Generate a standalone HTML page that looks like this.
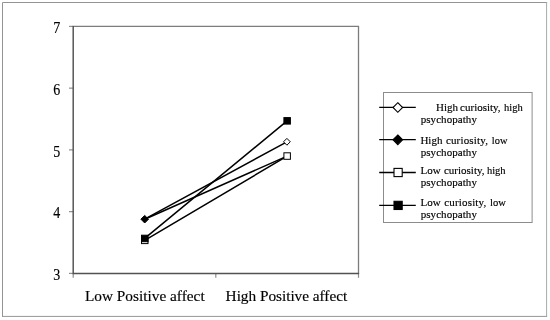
<!DOCTYPE html>
<html><head><meta charset="utf-8"><title>Chart</title>
<style>
html,body{margin:0;padding:0;background:#fff;}
svg{display:block;}
text{font-family:"Liberation Serif","Times New Roman",serif;fill:#000;stroke:#000;stroke-width:0.15px;}
</style></head><body>
<svg width="550" height="320" viewBox="0 0 550 320">
<rect x="0" y="0" width="550" height="320" fill="#fff"/>
<!-- outer frame -->
<g stroke-width="1" fill="none">
<path d="M2.5 316.9 V2.5 H547.1" stroke="#949494"/>
<path d="M546.6 2 V316.4" stroke="#a8a8a8"/>
<path d="M547.1 316.4 H2" stroke="#969696"/>
</g>
<!-- plot area -->
<path d="M72.5 26.3 H359.1 M358.5 26.3 V273.4" fill="none" stroke="#7c7c7c" stroke-width="1.3"/>
<g stroke="#8e8e8e" stroke-width="1.2">
<line x1="69" y1="26.4" x2="73.2" y2="26.4"/>
<line x1="69" y1="88.15" x2="73.2" y2="88.15"/>
<line x1="69" y1="149.9" x2="73.2" y2="149.9"/>
<line x1="69" y1="211.65" x2="73.2" y2="211.65"/>
<line x1="69" y1="273.4" x2="73.2" y2="273.4"/>
<line x1="73.2" y1="273.4" x2="73.2" y2="277.8"/>
<line x1="215.8" y1="273.4" x2="215.8" y2="277.8"/>
<line x1="358.5" y1="273.4" x2="358.5" y2="277.8"/>
</g>
<path d="M73.2 26 V274.1 M72.5 273.4 H359.1" fill="none" stroke="#525252" stroke-width="1.45"/>
<g font-size="16" text-anchor="end">
<text x="60.2" y="32.9" textLength="7" lengthAdjust="spacingAndGlyphs">7</text>
<text x="60.2" y="94.7" textLength="7" lengthAdjust="spacingAndGlyphs">6</text>
<text x="60.2" y="156.5" textLength="7" lengthAdjust="spacingAndGlyphs">5</text>
<text x="60.2" y="218.3" textLength="7" lengthAdjust="spacingAndGlyphs">4</text>
<text x="60.2" y="280.2" textLength="7" lengthAdjust="spacingAndGlyphs">3</text>
</g>
<g font-size="15.33">
<text x="84.9" y="300.5">Low Positive affect</text>
<text x="225.6" y="300.5" textLength="121.6" lengthAdjust="spacing">High Positive affect</text>
</g>
<!-- data lines -->
<g stroke="#000" stroke-width="1.5" fill="none" stroke-linecap="round">
<line x1="144.7" y1="219.2" x2="286.9" y2="141.8"/>
<line x1="144.7" y1="219.2" x2="287.1" y2="156.1"/>
<line x1="144.7" y1="240.4" x2="287.1" y2="156.1"/>
<line x1="144.7" y1="238.4" x2="287.1" y2="120.9"/>
</g>
<!-- markers -->
<g stroke="#000" stroke-width="1">
<path d="M144.7 215.4 L148.5 219.2 L144.7 223 L140.9 219.2 Z" fill="#000"/>
<path d="M286.9 138.4 L290.3 141.8 L286.9 145.2 L283.5 141.8 Z" fill="#fff"/>
<rect x="141.5" y="237.1" width="6.5" height="6.5" fill="#fff"/>
<rect x="141.5" y="235.2" width="6.5" height="6.5" fill="#000"/>
<rect x="283.9" y="152.8" width="6.5" height="6.5" fill="#fff"/>
<rect x="283.9" y="117.6" width="6.5" height="6.5" fill="#000"/>
</g>
<!-- legend -->
<rect x="383.5" y="92.5" width="148.6" height="130" fill="#fff" stroke="#8c8c8c" stroke-width="1"/>
<g stroke="#000" stroke-width="1.3">
<line x1="379.2" y1="107.3" x2="415.8" y2="107.3"/>
<line x1="379.2" y1="139.7" x2="415.8" y2="139.7"/>
<line x1="379.2" y1="172.5" x2="415.8" y2="172.5"/>
<line x1="379.2" y1="205.4" x2="415.8" y2="205.4"/>
</g>
<g stroke="#000" stroke-width="1.1">
<path d="M397.8 102.7 L402.6 107.5 L397.8 112.3 L393 107.5 Z" fill="#fff"/>
<path d="M397.8 135 L402.6 139.8 L397.8 144.6 L393 139.8 Z" fill="#000"/>
<rect x="394" y="168.4" width="8.2" height="8.2" fill="#fff"/>
<rect x="394" y="201.3" width="8.2" height="8.2" fill="#000"/>
</g>
<g font-size="11" xml:space="preserve">
<text y="110.7"><tspan x="436.1">High </tspan><tspan x="460.1">curiosity,</tspan><tspan> </tspan><tspan x="504.1" textLength="18.7" lengthAdjust="spacingAndGlyphs">high</tspan></text>
<text x="420.7" y="122.9" textLength="56.2" lengthAdjust="spacing">psychopathy</text>
<text y="143.7"><tspan x="420.4">High </tspan><tspan x="445.9" textLength="42" lengthAdjust="spacing">curiosity,</tspan><tspan>  </tspan><tspan x="491.8" textLength="15.6" lengthAdjust="spacingAndGlyphs">low</tspan></text>
<text x="420.7" y="155.9" textLength="56.2" lengthAdjust="spacing">psychopathy</text>
<text y="174.2"><tspan x="420.5">Low </tspan><tspan x="443.9" textLength="40.6" lengthAdjust="spacing">curiosity,</tspan><tspan> </tspan><tspan x="486.9" textLength="18.7" lengthAdjust="spacingAndGlyphs">high</tspan></text>
<text x="420.7" y="186.4" textLength="56.2" lengthAdjust="spacing">psychopathy</text>
<text y="205.7"><tspan x="420.5">Low </tspan><tspan x="444.3" textLength="42" lengthAdjust="spacing">curiosity,</tspan><tspan>  </tspan><tspan x="490.1" textLength="15.9" lengthAdjust="spacingAndGlyphs">low</tspan></text>
<text x="420.7" y="217.6" textLength="56.2" lengthAdjust="spacing">psychopathy</text>
</g>
</svg>
</body></html>
